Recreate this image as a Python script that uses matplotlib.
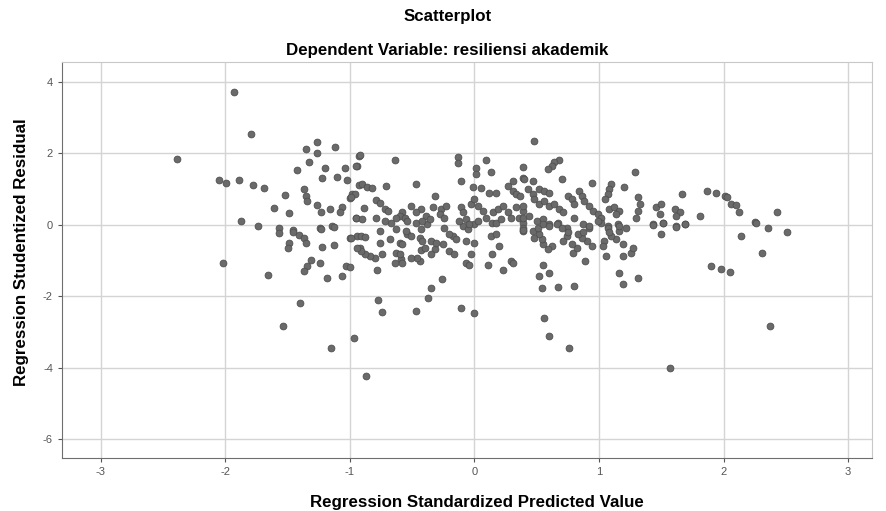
import matplotlib.pyplot as plt

# predicted (x) and residual (y) values
pred = [
    -2.39, -1.93, -1.79, -1.26, -1.12, -1.35, -1.26, -0.93, -1.33, -0.94,
    -1.20, -1.04, -1.42, -1.22, -1.10, -1.02, -2.05, -1.99, -1.89, -1.78,
    -1.69, -0.93, -1.37, -1.52, -0.98, -1.00, -1.35, -1.34, -1.26, -1.23,
    -1.16, -1.06, -1.08, -1.61, -1.49, -0.95, -1.87, -1.74, -1.57, -1.24,
    -1.14, -1.46,
    -1.57, -1.46, -1.41, -1.37, -1.35, -1.49, -1.50, -1.23, -1.13, -1.00,
    -0.94, -1.22, -1.13, -0.92, -2.02, -1.31, -1.34, -1.37, -1.24, -1.03,
    -1.66, -1.18, -1.06, -1.40, -1.54, -0.97, -1.15, -0.87,
    -0.77, -0.74, -0.47, -0.37, -0.35, -0.26, -0.11, 0.00, -0.78, -0.64,
    -1.00, -0.07, -0.04, 0.11, 0.23, 0.29, 0.31, 0.14, 0.20, 0.13,
    0.17, 0.39, -0.03, -0.20, -0.16, 0.00, -0.07, -0.17, -0.15, -0.20,
    -0.25, -0.32, -0.35, -0.44, -0.46, -0.43, -0.40, -0.51, -0.59, -0.58,
    -0.63, -0.60, -0.74, -0.80, -0.84, -0.88, -0.91, -0.94, -0.76, -0.68,
    -0.91, -0.88, -0.99, -0.60, -0.58, -0.54, -0.51, -0.55, -0.44, -0.42,
    -0.35, -0.31, -0.76, -0.63, -0.67, -0.24, -0.09, -0.05, 0.00, 0.14,
    0.39, -0.47, -0.38, -0.43,
    -0.92, -0.95, -0.64, -0.13, -0.13, 0.09, 0.01, 0.01, 0.13, 0.39,
    0.39, 0.31, -0.11, -0.47, -0.71, -0.90, -0.86, -0.82, -0.96, -0.99,
    -0.32, -0.01, 0.05, 0.12, 0.17, 0.27, 0.31, 0.33, -0.79, -0.76,
    -0.89, -0.72, -0.69, -0.51, -0.43, -0.47, -0.33, -0.27, -0.23, -0.58,
    -0.60, -0.63, -0.56, -0.54, -0.39, -0.36, -0.42, -0.11, -0.09, -0.03,
    0.00, 0.03, 0.07, 0.09, 0.15, 0.19, 0.23, 0.27, 0.33, 0.39,
    0.36, 0.29, -0.95, -0.90, -0.79, -0.72, -0.28, -0.24, -0.12, -0.07,
    -0.04, 0.03, 0.17, 0.21, 0.39,
    0.48, 0.68, 0.64, 0.62, 0.59, 0.70, 0.40, 0.47, 1.29, 0.94,
    1.10, 1.08, 1.07, 1.05, 1.20, 1.67, 0.43, 0.47, 0.52, 0.56,
    0.60, 0.37, 0.39, 0.48, 0.52, 0.56, 0.60, 0.64, 0.68, 0.71,
    0.75, 0.78, 0.80, 0.84, 0.86, 0.88, 0.92, 0.95, 0.99, 1.02,
    1.08, 1.12, 1.16, 1.14, 1.31, 1.33, 1.31, 1.30, 1.46, 1.50,
    1.49, 1.61, 1.65, 1.62, 1.43, 1.51, 1.62, 1.69, 0.39, 0.44,
    0.50, 0.55, 0.60, 0.67, 0.74, 0.80, 0.87, 0.92, 1.02, 1.07,
    1.15, 1.22,
    1.87, 1.94, 2.01, 2.03, 2.06, 2.10, 2.12, 1.81, 2.43, 2.25,
    2.26, 2.36, 2.51, 2.14, 2.31, 1.90, 1.98, 2.05, 2.37, 1.57,
    0.56, 0.60, 0.76, 0.54, 0.67, 0.80, 0.52, 0.60, 0.55, 0.89,
    1.16, 1.19, 1.31, 1.06, 1.19, 1.26, 1.27, 1.19, 1.14, 1.10,
    1.04, 1.03, 0.94, 0.90, 0.86, 0.83, 0.87, 0.79, 0.82, 0.78,
    0.74, 0.71, 0.75, 0.62, 0.59, 0.55, 0.54, 0.52, 0.48, 0.47,
    0.51, 0.55, 0.60, 0.66, 0.70, 0.39, 1.07, 1.16, 1.16, 1.08,
    1.43, 1.51, 1.62, 1.69, 1.50, 0.99, 0.92,
]
resid = [
    1.85, 3.71, 2.54, 2.32, 2.17, 2.12, 2.00, 1.93, 1.75, 1.63,
    1.59, 1.59, 1.53, 1.30, 1.34, 1.25, 1.26, 1.18, 1.25, 1.12,
    1.03, 1.12, 1.00, 0.82, 0.86, 0.75, 0.81, 0.67, 0.56, 0.35,
    0.44, 0.49, 0.35, 0.46, 0.32, 0.20, 0.09, -0.05, -0.08, -0.08,
    -0.05, -0.15,
    -0.24, -0.21, -0.28, -0.36, -0.50, -0.50, -0.64, -0.12, -0.06, -0.37,
    -0.31, -0.62, -0.56, -0.64, -1.06, -0.99, -1.15, -1.29, -1.07, -1.15,
    -1.40, -1.48, -1.43, -2.19, -2.85, -3.16, -3.45, -4.23,
    -2.10, -2.44, -2.41, -2.05, -1.76, -1.52, -2.34, -2.46, -1.27, -1.08,
    -1.18, -1.08, -1.12, -1.12, -1.27, -1.01, -1.06, -0.82, -0.59, -0.31,
    -0.26, -0.17, -0.82, -0.75, -0.82, -0.52, -0.45, -0.31, -0.40, -0.26,
    -0.54, -0.68, -0.82, -1.01, -0.92, -0.71, -0.64, -0.92, -0.96, -1.06,
    -0.78, -0.82, -0.82, -0.92, -0.87, -0.82, -0.73, -0.64, -0.50, -0.40,
    -0.31, -0.34, -0.37, -0.50, -0.54, -0.26, -0.31, -0.17, -0.36, -0.45,
    -0.45, -0.50, -0.17, -0.12, 0.06, -0.08, -0.03, -0.12, 0.02, 0.06,
    0.06, 0.06, 0.02, -0.12,
    1.96, 1.65, 1.81, 1.90, 1.72, 1.82, 1.59, 1.42, 1.47, 1.62,
    1.31, 1.23, 1.23, 1.14, 1.07, 1.14, 1.06, 1.03, 0.86, 0.77,
    0.81, 1.06, 1.03, 0.90, 0.88, 1.09, 0.95, 0.86, 0.69, 0.62,
    0.47, 0.44, 0.37, 0.53, 0.44, 0.35, 0.49, 0.44, 0.53, 0.35,
    0.25, 0.20, 0.20, 0.11, 0.25, 0.16, 0.11, 0.49, 0.35, 0.58,
    0.72, 0.53, 0.39, 0.20, 0.35, 0.44, 0.53, 0.35, 0.49, 0.39,
    0.20, 0.20, 0.20, 0.16, 0.20, 0.11, 0.30, 0.20, 0.11, 0.16,
    0.02, 0.11, 0.06, 0.16, -0.08,
    2.35, 1.81, 1.75, 1.65, 1.56, 1.28, 1.28, 1.23, 1.47, 1.18,
    1.14, 1.00, 0.86, 0.72, 1.06, 0.86, 1.00, 0.86, 1.00, 0.95,
    0.88, 0.81, 0.53, 0.72, 0.58, 0.67, 0.53, 0.58, 0.44, 0.35,
    0.81, 0.72, 0.58, 0.95, 0.81, 0.67, 0.53, 0.39, 0.30, 0.20,
    0.44, 0.49, 0.39, 0.30, 0.77, 0.58, 0.39, 0.20, 0.49, 0.58,
    0.30, 0.44, 0.35, 0.25, 0.02, 0.06, -0.03, 0.02, 0.20, 0.25,
    0.11, 0.16, 0.02, 0.06, -0.08, 0.20, 0.02, -0.08, 0.06, -0.03,
    0.02, -0.08,
    0.95, 0.90, 0.81, 0.77, 0.58, 0.56, 0.36, 0.25, 0.36, 0.08,
    0.05, -0.08, -0.21, -0.31, -0.80, -1.15, -1.23, -1.32, -2.83, -4.02,
    -2.60, -3.11, -3.44, -1.76, -1.74, -1.73, -1.43, -1.35, -1.12, -1.03,
    -1.34, -1.66, -1.49, -0.87, -0.87, -0.78, -0.64, -0.54, -0.40, -0.31,
    -0.45, -0.59, -0.59, -0.45, -0.36, -0.26, -0.21, -0.78, -0.64, -0.54,
    -0.31, -0.45, -0.21, -0.59, -0.68, -0.54, -0.40, -0.26, -0.36, -0.17,
    -0.08, 0.02, -0.03, 0.02, -0.08, -0.15, -0.08, -0.17, -0.03, -0.21,
    0.00, 0.04, -0.06, 0.02, -0.26, 0.11, -0.03,
]

x_ticks = [-3, -2, -1, 0, 1, 2, 3]
y_ticks = [4, 2, 0, -2, -4, -6]

plt.rcParams['font.family'] = ['Liberation Sans', 'DejaVu Sans']
# SPSS prints a plain hyphen for negative ticks
plt.rcParams['axes.unicode_minus'] = False

fig = plt.figure(figsize=(8.86, 5.11), dpi=100)
ax = fig.add_axes([0.070, 0.104, 0.914, 0.775])

ax.scatter(pred, resid, s=24, c='#6a6a6a', edgecolors='#505050',
           linewidths=0.6, zorder=3)

ax.set_xlim(-3.31, 3.19)
ax.set_ylim(-6.53, 4.56)
ax.set_xticks(x_ticks)
ax.set_yticks(y_ticks)
ax.grid(True, color='#d4d4d4', linewidth=1.0, zorder=0)
ax.set_axisbelow(True)

for side in ['top', 'right']:
    ax.spines[side].set_color('#c8c8c8')
for side in ['left', 'bottom']:
    ax.spines[side].set_color('#6e6e6e')

ax.tick_params(axis='both', labelsize=8, colors='#555555', length=3,
               width=0.8)

ax.set_xlabel('Regression Standardized Predicted Value', fontsize=12.2,
              fontweight='bold')
ax.set_ylabel('Regression Studentized Residual', fontsize=12.2,
              fontweight='bold')
ax.xaxis.set_label_coords(0.512, -0.095)
ax.yaxis.set_label_coords(-0.041, 0.52)

fig.text(0.505, 0.967, 'Scatterplot', ha='center', va='center',
         fontsize=12.2, fontweight='bold')
fig.text(0.505, 0.902, 'Dependent Variable: resiliensi akademik',
         ha='center', va='center', fontsize=12.2, fontweight='bold')

fig.savefig('out.png', dpi=100)
